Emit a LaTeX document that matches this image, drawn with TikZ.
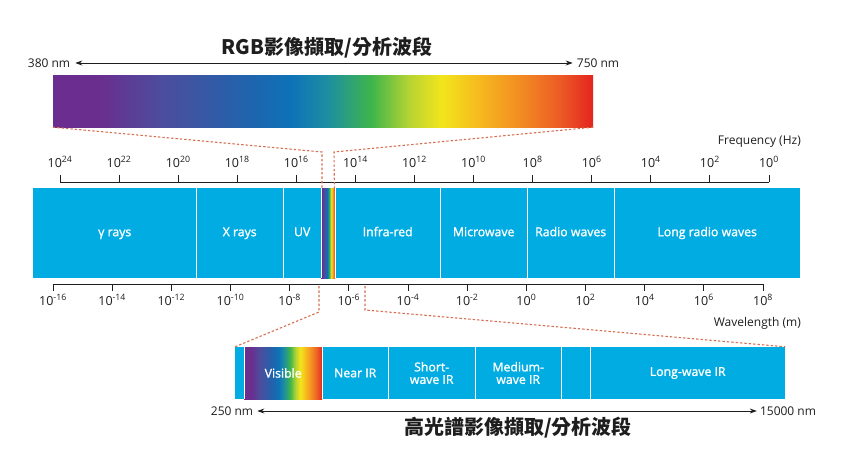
\documentclass[tikz,border=0pt]{standalone}
\usepackage{fontspec}
\setmainfont{Open Sans}
\newfontfamily\semib[FakeBold=1.3]{Open Sans}
\newfontfamily\cjk{Noto Sans CJK TC}
\usetikzlibrary{arrows.meta}
\definecolor{spcyan}{RGB}{0,172,226}
\definecolor{dashc}{RGB}{215,112,82}
\definecolor{txt}{RGB}{30,30,30}
\definecolor{sa}{RGB}{107,45,143}
\definecolor{sb}{RGB}{106,46,143}
\definecolor{sc}{RGB}{77,77,157}
\definecolor{sd}{RGB}{31,100,173}
\definecolor{se}{RGB}{14,114,184}
\definecolor{sf}{RGB}{29,143,160}
\definecolor{sg}{RGB}{63,181,74}
\definecolor{sh}{RGB}{183,212,51}
\definecolor{si}{RGB}{242,229,28}
\definecolor{sj}{RGB}{246,185,30}
\definecolor{sk}{RGB}{242,140,34}
\definecolor{sl}{RGB}{236,90,37}
\definecolor{sm}{RGB}{227,36,31}
\pgfdeclarehorizontalshading{visspec}{100bp}{color(0bp)=(sa); color(25bp)=(sa); color(29.35bp)=(sb); color(35bp)=(sc); color(43.25bp)=(sd); color(47bp)=(se); color(50.5bp)=(sf); color(54.5bp)=(sg); color(58bp)=(sh); color(61bp)=(si); color(64.5bp)=(sj); color(68.25bp)=(sk); color(72bp)=(sl); color(75bp)=(sm); color(100bp)=(sm)}
\tikzset{
  seg/.style={fill=spcyan, inner sep=0pt, anchor=west, text=white, font=\semib\fontsize{12.3}{12.5}\selectfont, align=center},
  mainseg/.style={seg, minimum height=90, text height=9pt, text depth=2.6pt},
  lowseg/.style={seg, minimum height=52},
  divider/.style={white, line width=1.6pt},
  dashline/.style={dashc, line width=1.1pt, dash pattern=on 2.4pt off 2pt},
  arr/.style={txt, line width=0.9pt, {Stealth[length=7pt,width=5pt]}-{Stealth[length=7pt,width=5pt]}},
  lbl/.style={text=txt, font=\fontsize{12}{13}\selectfont, inner sep=2pt},
  tick/.style={text=txt, font=\fontsize{12.5}{14}\selectfont, inner sep=0pt},
  title/.style={text=txt, font=\cjk\bfseries\fontsize{20}{24}\selectfont, inner sep=0pt}
}
\begin{document}
\begin{tikzpicture}[x=1pt,y=-1pt]
\useasboundingbox (0,0) rectangle (841,472);
\fill[white] (0,0) rectangle (841,472);

% ---- top: RGB range
\node[title] (t1) at (327,48) {RGB影像擷取/分析波段};
\node[lbl] (l380) at (49,63) {380 nm};
\node[lbl] (l750) at (598,63) {750 nm};
\draw[arr] ([xshift=3pt]l380.east) -- ([xshift=-2pt]l750.west);
\node[shading=visspec, minimum width=540, minimum height=52, inner sep=0pt] (rgb) at (323,101) {};

% ---- frequency axis
\node[lbl, anchor=east] (fq) at (803,142) {Frequency (Hz)};
\draw[txt, line width=0.9pt] (60,182) -- (769,182);
\foreach \i in {0,...,12}{
  \pgfmathsetmacro{\xx}{60+59.08*\i}
  \pgfmathtruncatemacro{\ee}{24-2*\i}
  \draw[txt, line width=0.9pt] (\xx,175) -- (\xx,182);
  \node[tick] (f\i) at (\xx,162) {10\textsuperscript{\ee}};
}

% ---- main spectrum bar
\node[mainseg, minimum width=163] (g) at (33,233) {γ rays};
\node[mainseg, minimum width=87] (xr) at (196,233) {X rays};
\node[mainseg, minimum width=38] (uv) at (283,233) {UV};
\node[mainseg, minimum width=14, shading=visspec] (vis) at (321,233) {};
\node[mainseg, minimum width=105] (ir) at (335,233) {Infra-red};
\node[mainseg, minimum width=87] (mw) at (440,233) {Microwave};
\node[mainseg, minimum width=87] (rw) at (527,233) {Radio waves};
\node[mainseg, minimum width=186] (lrw) at (614,233) {Long radio waves};
\foreach \n in {g,xr,uv,vis,ir,mw,rw}{
  \draw[divider] (\n.north east) -- (\n.south east);
}

% ---- wavelength axis
\draw[txt, line width=0.9pt] (53,284) -- (763,284);
\foreach \i in {0,...,12}{
  \pgfmathsetmacro{\xx}{53+59.17*\i}
  \pgfmathtruncatemacro{\ee}{-16+2*\i}
  \draw[txt, line width=0.9pt] (\xx,284) -- (\xx,291);
  \node[tick] (w\i) at (\xx,300) {10\textsuperscript{\ee}};
}
\node[lbl, anchor=east] (wl) at (803,323) {Wavelength (m)};

% ---- lower bar
\node[lowseg, minimum width=9] (b0) at (235,373) {};
\node[lowseg, minimum width=78, shading=visspec] (bvis) at (244,373) {Visible};
\node[lowseg, minimum width=66] (nir) at (322,373) {Near IR};
\node[lowseg, minimum width=87] (swir) at (388,373) {Short-\\wave IR};
\node[lowseg, minimum width=86] (mwir) at (475,373) {Medium-\\wave IR};
\node[lowseg, minimum width=29] (gap) at (561,373) {};
\node[lowseg, minimum width=195] (lwir) at (590,373) {Long-wave IR};
\foreach \n in {b0,bvis,nir,swir,mwir,gap}{
  \draw[divider] (\n.north east) -- (\n.south east);
}

\node[lbl] (l250) at (232,411) {250 nm};
\node[lbl] (l15k) at (788,411) {15000 nm};
\draw[arr] ([xshift=2pt]l250.east) -- ([xshift=-1pt]l15k.west);
\node[title] (t2) at (518,428) {高光譜影像擷取/分析波段};

% ---- dashed zoom connectors
\coordinate (d1) at (322,152);
\coordinate (d2) at (334,152);
\draw[dashline] (rgb.south west) -- (d1) -- ([xshift=1pt]vis.north west);
\draw[dashline] (rgb.south east) -- (d2) -- ([xshift=-1pt]vis.north east);
\coordinate (d3a) at (319,286);
\coordinate (d3) at (319,312);
\coordinate (d4a) at (365,286);
\coordinate (d4) at (365,310);
\draw[dashline] (d3a) -- (d3) -- (b0.north west);
\draw[dashline] (d4a) -- (d4) -- (lwir.north east);
\end{tikzpicture}
\end{document}
